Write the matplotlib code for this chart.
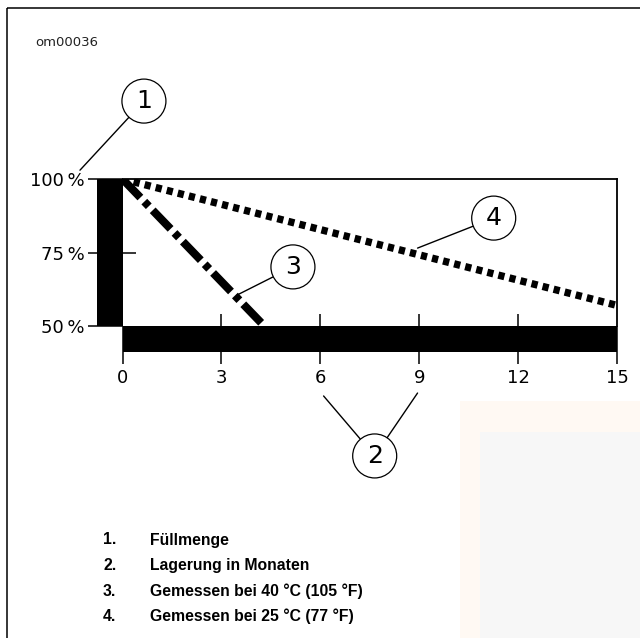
import matplotlib
matplotlib.use("Agg")
import matplotlib.pyplot as plt
from matplotlib.patches import Rectangle
from matplotlib import font_manager

# ---- data ----
months_40 = [0, 4.3]        # Gemessen bei 40 °C
fill_40 = [100, 50]
months_25 = [0, 15]         # Gemessen bei 25 °C
fill_25 = [100, 57]
x_ticks = [0, 3, 6, 9, 12, 15]
y_ticks = [50, 75, 100]
y_tick_labels = ["50\u2009%", "75\u2009%", "100\u2009%"]
legend_nums = ["1.", "2.", "3.", "4."]
legend_texts = ["Füllmenge", "Lagerung in Monaten",
                "Gemessen bei 40 °C (105 °F)", "Gemessen bei 25 °C (77 °F)"]

W, H = 640, 638
fig = plt.figure(figsize=(W / 100, H / 100), dpi=100)
fig.patch.set_facecolor("white")

PX = 72 / 100  # points per pixel

# background overlay in pixel coordinates
bg = fig.add_axes([0, 0, 1, 1], zorder=-1)
bg.set_xlim(0, W)
bg.set_ylim(H, 0)
bg.axis("off")
bg.add_patch(Rectangle((460, 401), 200, 260, color="#FFF9F3", lw=0))
bg.add_patch(Rectangle((480, 432), 180, 230, color="#F7F7F7", lw=0))
bg.add_patch(Rectangle((6.5, 7.5), 700, 700, fill=False, ec="black", lw=1.1))
bg.text(35, 42, "om00036", fontsize=9.5, family="DejaVu Sans", va="center", ha="left", color="#222222")

names = {f.name for f in font_manager.fontManager.ttflist}
if "Liberation Sans Narrow" in names:
    lfont, lsize = "Liberation Sans Narrow", 12.5
else:
    lfont, lsize = "Liberation Sans", 11.3
for i, (n, t) in enumerate(zip(legend_nums, legend_texts)):
    yy = 540 + i * 25.5
    bg.text(103, yy, n, fontsize=lsize, family=lfont, weight="bold", va="center", ha="left")
    bg.text(150, yy, t, fontsize=lsize, family=lfont, weight="bold", va="center", ha="left")

# main axes
x0, x1, ytop, ybot = 122.5, 617, 179, 326
ax = fig.add_axes([x0 / W, 1 - ybot / H, (x1 - x0) / W, (ybot - ytop) / H])
ax.set_facecolor("none")
ax.set_xlim(0, 15)
ax.set_ylim(50, 100)

for s in ["left", "bottom"]:
    ax.spines[s].set_visible(False)
for s in ["top", "right"]:
    ax.spines[s].set_linewidth(1.3)

# thick axis bars
bw = 26
ax.add_patch(Rectangle((-bw / (x1 - x0), 0), bw / (x1 - x0), 1, transform=ax.transAxes,
                       color="black", clip_on=False, zorder=3, lw=0))
ax.add_patch(Rectangle((0, -bw / (ybot - ytop)), 1, bw / (ybot - ytop), transform=ax.transAxes,
                       color="black", clip_on=False, zorder=3, lw=0))

ax.yaxis.remove_overlapping_locs = False
ax.xaxis.remove_overlapping_locs = False
ax.set_yticks(y_ticks)
ax.set_yticklabels(y_tick_labels)
ax.set_yticks([75], minor=True)
ax.set_xticks(x_ticks)
ax.set_xticklabels([str(v) for v in x_ticks])
ax.set_xticks(x_ticks[1:-1], minor=True)
ax.tick_params(axis="y", which="major", direction="out", length=35.5 * PX, width=1.1,
               pad=2.5 * PX, labelsize=13, colors="black")
ax.tick_params(axis="y", which="minor", direction="in", length=12.5 * PX, width=1.1)
ax.tick_params(axis="x", which="major", direction="out", length=38 * PX, width=1.1,
               pad=3.5, labelsize=13, colors="black")
ax.tick_params(axis="x", which="minor", direction="in", length=12 * PX, width=1.1)
for lab in ax.get_xticklabels() + ax.get_yticklabels():
    lab.set_family("DejaVu Sans")

# data lines
ax.plot(months_40, fill_40, color="black", lw=5.8, linestyle=(0, (3.2, 0.7, 0.8, 0.7)),
        dash_capstyle="butt", zorder=2)
ax.plot(months_25, fill_25, color="black", lw=5.3, linestyle=(0, (0.85, 0.7)),
        dash_capstyle="butt", zorder=2)

# callouts
def callout(label, circ, target, visible=True):
    ax.annotate(label, xy=target, xytext=circ, xycoords="data", textcoords="data",
                ha="center", va="center", fontsize=18, family="DejaVu Sans",
                color="black" if visible else "none",
                bbox=dict(boxstyle="circle,pad=0.4", fc="white" if visible else "none",
                          ec="black" if visible else "none", lw=0.9),
                arrowprops=dict(arrowstyle="-", lw=1.0, color="black", shrinkA=0, shrinkB=0),
                annotation_clip=False, zorder=5)

callout("1", (0.65, 126.5), (-1.29, 103.0))
callout("3", (5.17, 70.1), (3.47, 60.5))
callout("4", (11.26, 86.7), (8.95, 76.5))
callout("2", (7.65, 5.8), (8.95, 27.2), visible=False)
callout("2", (7.65, 5.8), (6.1, 26.2))

fig.savefig("out.png", dpi=100)
